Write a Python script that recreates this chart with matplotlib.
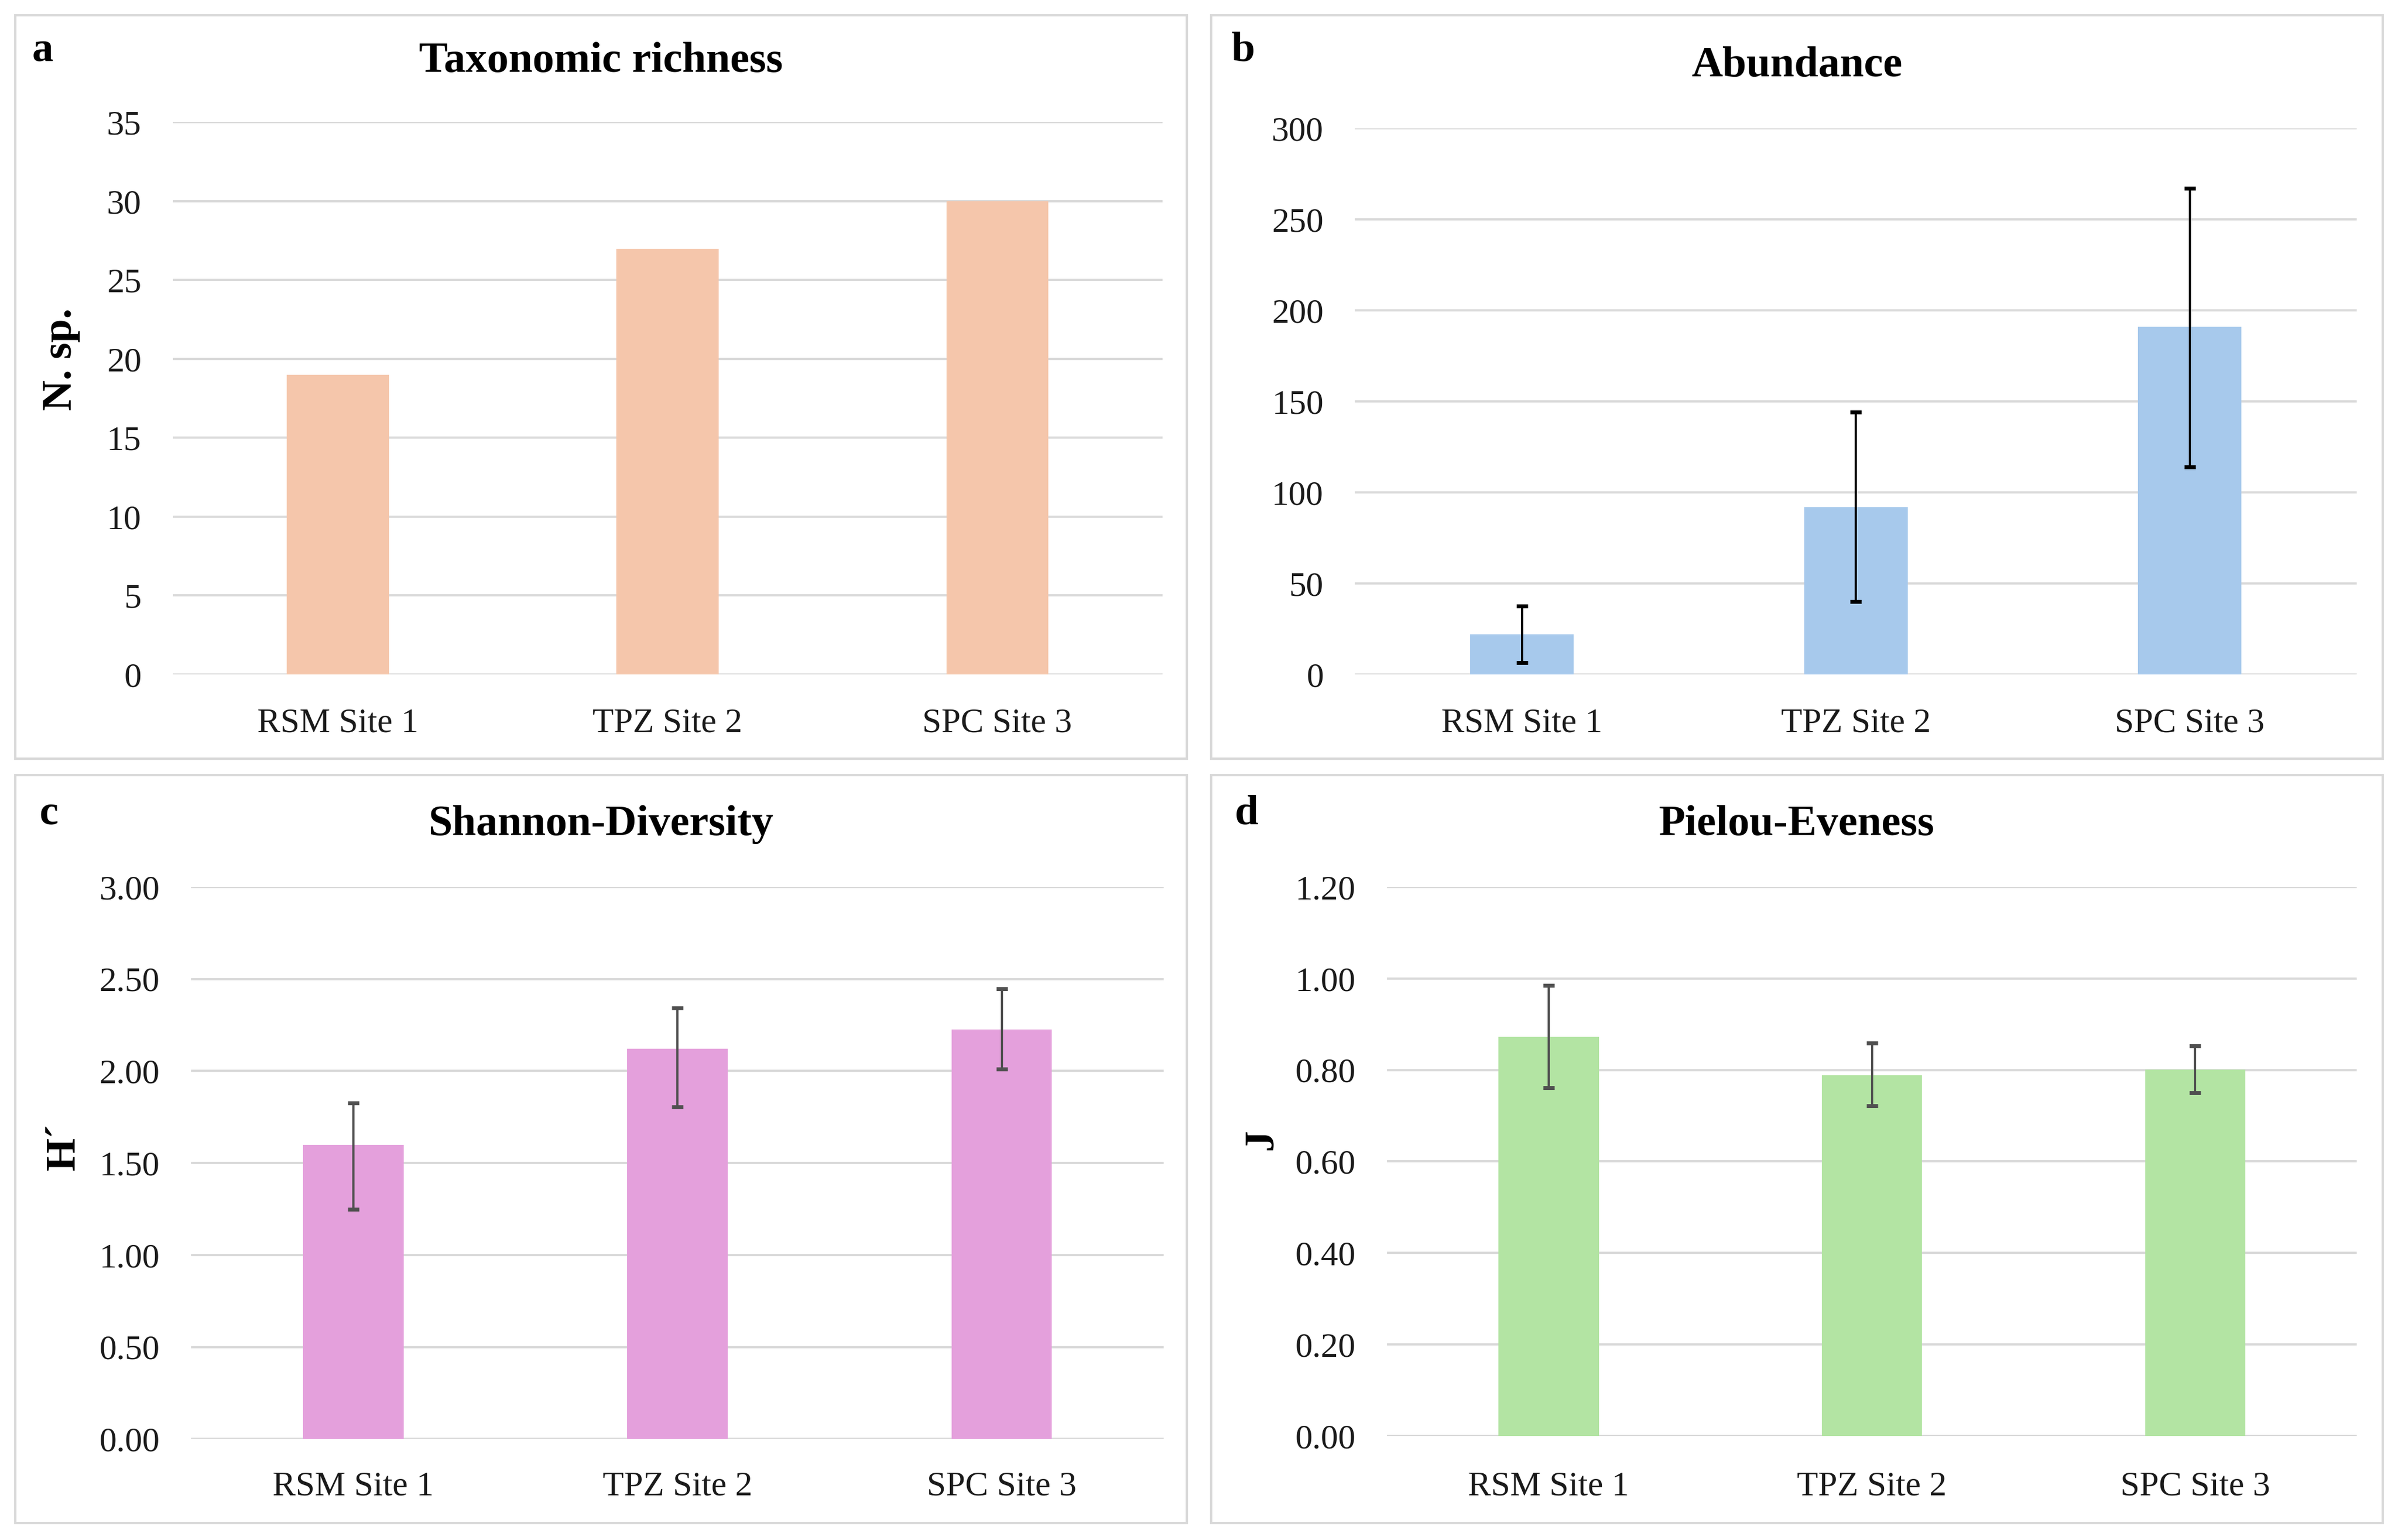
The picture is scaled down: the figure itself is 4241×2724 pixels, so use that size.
import matplotlib
matplotlib.use("Agg")
import matplotlib.pyplot as plt
import matplotlib.patches as mpatches

plt.rcParams["font.family"] = ["Liberation Serif", "DejaVu Serif"]

sites = ["RSM Site 1", "TPZ Site 2", "SPC Site 3"]

richness = [19, 27, 30]

abundance = [22, 92, 191]
abundance_err_low = [15.5, 52, 77]
abundance_err_high = [15.5, 52, 76]

shannon = [1.60, 2.12, 2.225]
shannon_err_low = [0.352, 0.314, 0.213]
shannon_err_high = [0.226, 0.223, 0.223]

pielou = [0.872, 0.789, 0.801]
pielou_err_low = [0.111, 0.067, 0.051]
pielou_err_high = [0.113, 0.070, 0.052]

W, H = 1568.0, 1007.0  # layout measured in reference units


def fx(px):
    return px / W


def fy(py):
    return 1 - py / H


fig = plt.figure(figsize=(21.205, 13.62), dpi=200)

# panel frames
for x0, y0, x1, y1 in [(10, 10, 776, 496), (792, 10, 1558, 496),
                       (10, 507, 776, 996), (792, 507, 1558, 996)]:
    fig.patches.append(mpatches.Rectangle((fx(x0), fy(y1)), fx(x1) - fx(x0), fy(y0) - fy(y1),
                                          transform=fig.transFigure, fill=False,
                                          edgecolor="#d9d9d9", linewidth=1.5))

panels = [
    dict(letter="a", title="Taxonomic richness", vals=richness, err=None, color="#f5c6ab",
         ecolor="black", ylim=(0, 35), ticks=range(0, 36, 5), fmt="{:.0f}", ylabel="N. sp.",
         box=(113, 760, 441, 80), lpos=(28, 33), tpos=(393, 40), ylpos=(40, 235), xlab=473),
    dict(letter="b", title="Abundance", vals=abundance, err=[abundance_err_low, abundance_err_high],
         color="#a7c9ec", ecolor="black", ylim=(0, 300), ticks=range(0, 301, 50), fmt="{:.0f}",
         ylabel=None, box=(886, 1541, 441, 84), lpos=(813, 33), tpos=(1175, 43), ylpos=None, xlab=473),
    dict(letter="c", title="Shannon-Diversity", vals=shannon, err=[shannon_err_low, shannon_err_high],
         color="#e4a0dc", ecolor="#505050", ylim=(0, 3), ticks=[0, 0.5, 1, 1.5, 2, 2.5, 3], fmt="{:.2f}",
         ylabel="H\u00b4", box=(125, 761, 941, 580), lpos=(32, 532), tpos=(393, 539), ylpos=(42, 750), xlab=972),
    dict(letter="d", title="Pielou-Eveness", vals=pielou, err=[pielou_err_low, pielou_err_high],
         color="#b3e4a3", ecolor="#505050", ylim=(0, 1.2), ticks=[0, 0.2, 0.4, 0.6, 0.8, 1.0, 1.2],
         fmt="{:.2f}", ylabel="J", box=(907, 1541, 939, 580), lpos=(815, 532), tpos=(1175, 539),
         ylpos=(825, 745), xlab=972),
]

for p in panels:
    l, r, b, t = p["box"]
    ax = fig.add_axes([fx(l), fy(b), fx(r) - fx(l), fy(t) - fy(b)])
    x = list(range(len(sites)))
    ax.bar(x, p["vals"], width=0.31, color=p["color"], zorder=2)
    if p["err"] is not None:
        ax.errorbar(x, p["vals"], yerr=p["err"], fmt="none", ecolor=p["ecolor"],
                    elinewidth=1.4, capsize=3.5, capthick=2.5, zorder=3)
    ax.set_xlim(-0.5, 2.5)
    ax.set_ylim(*p["ylim"])
    ax.set_yticks(list(p["ticks"]))
    ax.set_yticklabels([p["fmt"].format(v) for v in p["ticks"]], fontsize=22, color="#1a1a1a")
    ax.set_xticks(x)
    ax.set_xticklabels([])
    ax.tick_params(length=0, pad=20)
    ax.grid(axis="y", color="#d9d9d9", linewidth=1.4, zorder=0)
    ax.set_axisbelow(True)
    for s in ax.spines.values():
        s.set_visible(False)
    for i, name in enumerate(sites):
        xd = ax.transData.transform((i, 0))[0]
        xf = fig.transFigure.inverted().transform((xd, 0))[0]
        fig.text(xf, fy(p["xlab"]), name, ha="center", va="center", fontsize=22, color="#1a1a1a")

    fig.text(fx(p["tpos"][0]), fy(p["tpos"][1]), p["title"], ha="center", va="center",
             fontsize=27.5, fontweight="bold")
    fig.text(fx(p["lpos"][0]), fy(p["lpos"][1]), p["letter"], ha="center", va="center",
             fontsize=27, fontweight="bold")
    if p["ylabel"]:
        fig.text(fx(p["ylpos"][0]), fy(p["ylpos"][1]), p["ylabel"], ha="center", va="center",
                 rotation=90, fontsize=27, fontweight="bold")

fig.savefig("out.png", dpi=200, facecolor="white")
